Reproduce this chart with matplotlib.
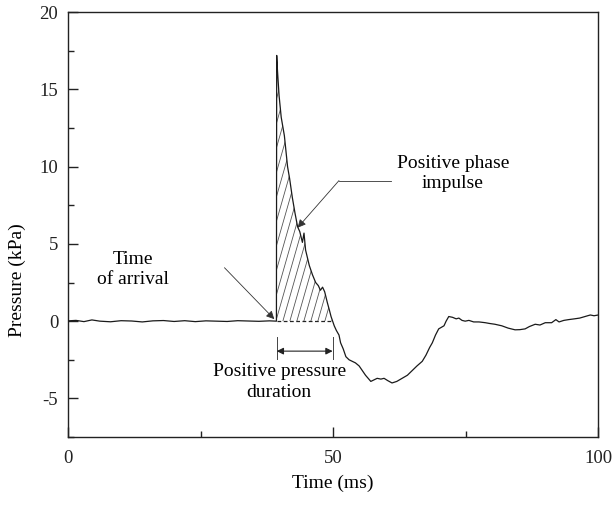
import numpy as np
import matplotlib
matplotlib.use("Agg")
import matplotlib.pyplot as plt
from matplotlib.ticker import MultipleLocator

plt.rcParams['font.family'] = ['Liberation Serif', 'DejaVu Serif']

# ---- data (time in ms, pressure in kPa) ----
time_ms = [0, 1.5, 3, 4.5, 6, 8, 10, 12, 14, 16, 18, 20, 22, 24, 26, 28, 30, 32, 34, 36, 38, 39.3,
           39.35, 39.5, 39.8, 40.2, 40.5, 40.8, 41.1, 41.4, 41.8, 42.3, 42.8, 43.3, 43.7, 44.2, 44.5,
           44.8, 45.5, 46.1, 46.7, 47.2, 47.6, 48.0, 48.4, 48.9, 49.3, 49.6, 49.9, 50.2, 50.6, 51.1,
           51.4, 51.9, 52.4, 53.0, 53.6, 54.2, 54.9, 55.5, 56.1, 56.6, 57.1, 57.7, 58.3, 59.0, 59.6,
           60.3, 61.1, 62.0, 63.0, 64.0, 64.9, 65.8, 66.8, 67.5, 68.2, 68.7, 69.3, 69.9, 70.4, 70.9,
           71.3, 71.8, 72.5, 73.2, 73.7, 74.3, 74.9, 75.6, 76.5, 77.5, 78.7, 79.5, 80.5, 81.8, 83.0,
           84.3, 85.2, 86.2, 87.0, 88.1, 89.0, 90.0, 91.2, 92.0, 92.6, 93.5, 94.4, 95.5, 96.5, 97.5,
           98.5, 99.2, 100]
pressure_kpa = [0.02, 0.05, -0.03, 0.08, 0.0, -0.04, 0.03, 0.01, -0.05, 0.02, 0.04, -0.02, 0.03, -0.03, 0.02, 0.0, -0.02, 0.03, 0.01, -0.01, 0.02, 0.0,
                17.2, 16.2, 14.6, 13.2, 12.6, 12.0, 11.0, 10.0, 9.2, 8.0, 7.0, 6.1, 5.8, 5.1, 5.7,
                4.6, 3.6, 3.0, 2.5, 2.3, 2.0, 2.2, 1.9, 1.2, 0.7, 0.3, 0.0, -0.3, -0.6, -0.9,
                -1.4, -1.8, -2.3, -2.5, -2.6, -2.7, -2.9, -3.2, -3.5, -3.7, -3.9, -3.8, -3.7, -3.75, -3.7,
                -3.85, -4.0, -3.9, -3.7, -3.5, -3.2, -2.9, -2.6, -2.2, -1.7, -1.4, -0.9, -0.5, -0.4, -0.3,
                0.0, 0.3, 0.25, 0.15, 0.2, 0.05, 0.0, 0.05, -0.05, -0.05, -0.1, -0.15, -0.2, -0.3, -0.45,
                -0.56, -0.55, -0.5, -0.35, -0.2, -0.25, -0.1, -0.1, 0.1, -0.05, 0.05, 0.1, 0.15, 0.2, 0.3,
                0.4, 0.35, 0.4]

arrival_ms = 39.35
positive_end_ms = 49.9

x_ticks = [0, 50, 100]
y_ticks = [-5, 0, 5, 10, 15, 20]

t = np.array(time_ms)
p = np.array(pressure_kpa)

fig = plt.figure(figsize=(6.13, 5.07), dpi=100)
ax = fig.add_axes([0.111, 0.138, 0.865, 0.838])

# hatched positive phase region
mask = (t >= arrival_ms) & (t <= positive_end_ms)
poly = ax.fill_between(t[mask], p[mask], 0, facecolor='none', edgecolor='none')
clip_path = poly.get_paths()[0]
slope = 1.2      # kPa per ms, steep hatch
step = 1.32      # ms between hatch lines
for x0 in np.arange(arrival_ms - 16, positive_end_ms + step, step):
    ln, = ax.plot([x0, x0 + 18 / slope], [0, 18], color='#555555', lw=0.6, zorder=2)
    ln.set_clip_path(clip_path, ax.transData)

ax.plot([arrival_ms, positive_end_ms], [0, 0], color='#222222', lw=0.9, ls=(0, (3, 2)), zorder=3)
ax.plot(t, p, color='#1a1a1a', lw=0.9, zorder=4)

ax.set_xlim(0, 100)
ax.set_ylim(-7.5, 20)
ax.set_xticks(x_ticks)
ax.set_yticks(y_ticks)
ax.set_yticklabels([str(v) for v in y_ticks])
ax.xaxis.set_minor_locator(MultipleLocator(25))
ax.yaxis.set_minor_locator(MultipleLocator(2.5))
ax.tick_params(which='both', direction='in', labelsize=13.5, colors='#222222')
ax.tick_params(which='major', length=7, width=1.0)
ax.tick_params(which='minor', length=4, width=1.0)
ax.tick_params(axis='x', pad=9)
ax.tick_params(axis='y', pad=7)
for s in ax.spines.values():
    s.set_linewidth(1.0)
    s.set_color('#222222')

ax.set_xlabel('Time (ms)', fontsize=14, labelpad=6)
ax.set_ylabel('Pressure (kPa)', fontsize=14, va='center')
ax.yaxis.set_label_coords(-0.096, 0.37)

# annotations
ax.text(12.3, 3.35, 'Time\nof arrival', fontsize=14, ha='center', va='center', linespacing=1.25)
ax.annotate('', xy=(38.9, 0.13), xytext=(29.5, 3.46),
            arrowprops=dict(arrowstyle='-|>', color='#333333', lw=0.6, shrinkA=0, shrinkB=0,
                            mutation_scale=12))

ax.text(72.6, 9.55, 'Positive phase\nimpulse', fontsize=14, ha='center', va='center', linespacing=1.25)
ax.plot([60.85, 51.1], [9.1, 9.1], color='#333333', lw=0.6)
ax.annotate('', xy=(43.3, 6.05), xytext=(51.1, 9.1),
            arrowprops=dict(arrowstyle='-|>', color='#333333', lw=0.6, shrinkA=0, shrinkB=0,
                            mutation_scale=12))

ax.text(39.8, -3.95, 'Positive pressure\nduration', fontsize=14, ha='center', va='center', linespacing=1.3)
ax.annotate('', xy=(arrival_ms, -1.94), xytext=(positive_end_ms, -1.94),
            arrowprops=dict(arrowstyle='<|-|>', color='#222222', lw=0.8, shrinkA=0, shrinkB=0,
                            mutation_scale=10))
ax.plot([arrival_ms, arrival_ms], [-1.03, -2.45], color='#444444', lw=0.7)
ax.plot([positive_end_ms, positive_end_ms], [-1.03, -2.45], color='#444444', lw=0.7)

fig.savefig('out.png', dpi=100)
